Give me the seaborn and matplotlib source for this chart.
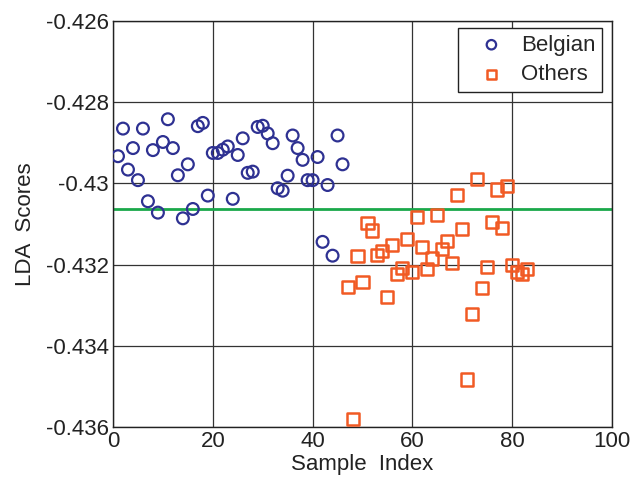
import numpy as np
import pandas as pd
import matplotlib
matplotlib.use("Agg")
import matplotlib.pyplot as plt
import seaborn as sns

belgian_idx = list(range(1, 47))
belgian_scores = [
    -0.42933, -0.42865, -0.42966, -0.42913, -0.42992, -0.42865, -0.43044, -0.42918,
    -0.43072, -0.42898, -0.42842, -0.42913, -0.42980, -0.43086, -0.42953, -0.43063,
    -0.42859, -0.42851, -0.43030, -0.42925, -0.42925, -0.42917, -0.42909, -0.43038,
    -0.42930, -0.42889, -0.42974, -0.42971, -0.42861, -0.42858, -0.42877, -0.42901,
    -0.43012, -0.43018, -0.42981, -0.42882, -0.42913, -0.42942, -0.42992, -0.42992,
    -0.42935, -0.43144, -0.43004, -0.43178, -0.42882, -0.42953,
]
others_idx = list(range(47, 84))
others_scores = [
    -0.43256, -0.43581, -0.43180, -0.43242, -0.43097, -0.43116, -0.43177, -0.43167,
    -0.43280, -0.43151, -0.43224, -0.43208, -0.43136, -0.43218, -0.43083, -0.43156,
    -0.43210, -0.43185, -0.43077, -0.43162, -0.43141, -0.43195, -0.43029, -0.43113,
    -0.43483, -0.43321, -0.42989, -0.43257, -0.43206, -0.43095, -0.43015, -0.43109,
    -0.43006, -0.43200, -0.43218, -0.43222, -0.43210,
]
threshold = -0.43062
x_ticks = [0, 20, 40, 60, 80, 100]
y_ticks = [-0.436, -0.434, -0.432, -0.430, -0.428, -0.426]
y_tick_labels = ["-0.436", "-0.434", "-0.432", "-0.43", "-0.428", "-0.426"]

sns.set_style("white")
plt.rcParams["font.family"] = ["Liberation Sans", "DejaVu Sans"]

df_b = pd.DataFrame({"idx": belgian_idx, "score": belgian_scores})
df_o = pd.DataFrame({"idx": others_idx, "score": others_scores})

fig = plt.figure(figsize=(6.33, 4.88), dpi=100)
ax = fig.add_axes([113 / 633, 61 / 488, 499 / 633, 406 / 488])

blue = "#2e3192"
orange = "#f15a24"
green = "#1aa84a"
txt = "#222222"

ax.axhline(threshold, color=green, lw=2, zorder=2)
sns.scatterplot(data=df_b, x="idx", y="score", ax=ax, marker="o", s=72,
                facecolor="none", edgecolor=blue, linewidth=1.6, label="Belgian", zorder=3)
sns.scatterplot(data=df_o, x="idx", y="score", ax=ax, marker="s", s=75,
                facecolor="none", edgecolor=orange, linewidth=1.8, label="Others", zorder=3)

ax.set_xlim(0, 100)
ax.set_ylim(-0.436, -0.426)
ax.set_xticks(x_ticks)
ax.set_xticklabels([str(t) for t in x_ticks])
ax.set_yticks(y_ticks)
ax.set_yticklabels(y_tick_labels)
ax.grid(True, color="#333333", lw=0.9, zorder=0)
ax.set_axisbelow(True)
for sp in ax.spines.values():
    sp.set_color(txt)
    sp.set_linewidth(1.0)
ax.tick_params(axis="both", labelsize=16, colors=txt, direction="in", length=0, pad=3)
ax.set_xlabel("Sample  Index", fontsize=16, color=txt, labelpad=1)
ax.set_ylabel("LDA  Scores", fontsize=16, color=txt, labelpad=7)

leg = ax.legend(loc="upper right", bbox_to_anchor=(0.98, 0.983), borderaxespad=0,
                fontsize=16, frameon=True, fancybox=False, markerscale=0.8,
                edgecolor=txt, framealpha=1, borderpad=0.3, handletextpad=0.1,
                labelspacing=0.4, handlelength=2.45)
leg.get_frame().set_linewidth(1.0)

fig.savefig("out.png", dpi=100)
